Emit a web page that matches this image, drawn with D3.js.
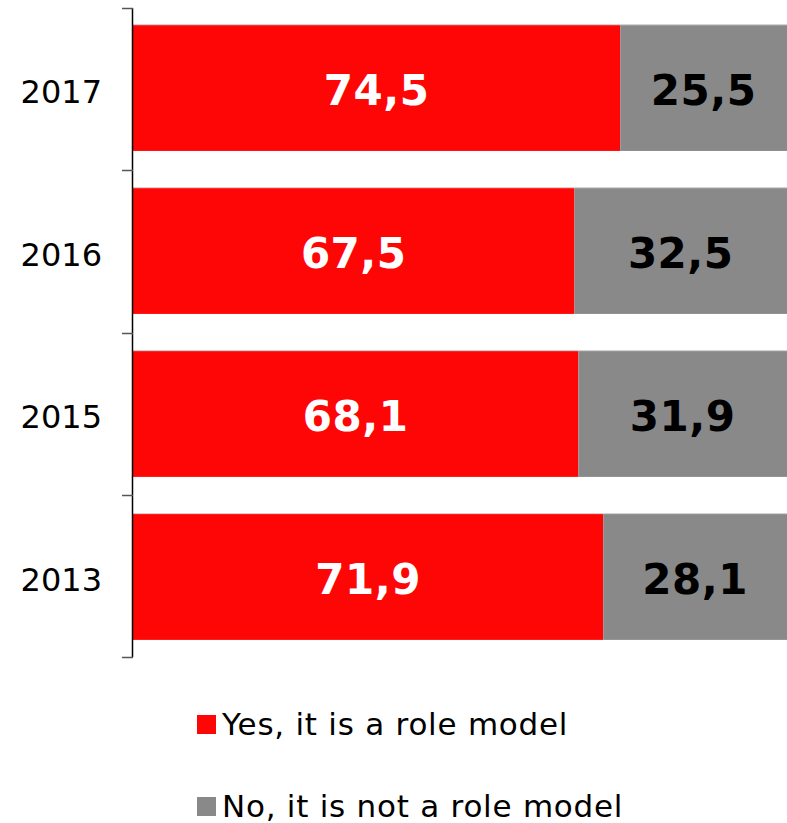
<!DOCTYPE html>
<html>
<head>
<meta charset="utf-8">
<script src="https://cdn.jsdelivr.net/npm/d3@7"></script>
<style>
  html, body { margin: 0; padding: 0; background: #fff; }
  svg { display: block; font-family: "DejaVu Sans", Verdana, sans-serif; }
</style>
</head>
<body>
<svg id="chart" width="787" height="823"></svg>
<script>
const years = ["2017", "2016", "2015", "2013"];
const yesValues = [74.5, 67.5, 68.1, 71.9];
const noValues = [25.5, 32.5, 31.9, 28.1];
const seriesNames = ["Yes, it is a role model", "No, it is not a role model"];
const seriesColors = ["#ff0606", "#898989"];
const labelColors = ["#ffffff", "#000000"];

const svg = d3.select("#chart");
const margin = { left: 133, right: 0, top: 8, bottom: 166 };
const W = 787, H = 823;

const x = d3.scaleLinear().domain([0, 100]).range([margin.left, W - margin.right]);
const y = d3.scaleBand().domain(years).range([margin.top, H - margin.bottom]).paddingInner(0.228).paddingOuter(0.105);

const stackData = years.map((yr, i) => ({ year: yr, yes: yesValues[i], no: noValues[i] }));
const stack = d3.stack().keys(["yes", "no"])(stackData);

const fmt = v => d3.format(".1f")(v).replace(".", ",");

stack.forEach((layer, li) => {
  const g = svg.append("g");
  g.selectAll("rect").data(layer).enter().append("rect")
    .attr("x", d => x(d[0]))
    .attr("y", d => y(d.data.year))
    .attr("width", d => x(d[1]) - x(d[0]))
    .attr("height", y.bandwidth())
    .attr("fill", seriesColors[li]);
  g.selectAll("line.edge").data(layer).enter().append("line")
    .attr("x1", d => x(d[0])).attr("x2", d => x(d[1]))
    .attr("y1", d => y(d.data.year) - 0.5).attr("y2", d => y(d.data.year) - 0.5)
    .attr("stroke", "#cfcfcf").attr("stroke-width", 1);
  g.selectAll("text").data(layer).enter().append("text")
    .attr("x", d => (x(d[0]) + x(d[1])) / 2)
    .attr("y", d => y(d.data.year) + y.bandwidth() / 2 + 17)
    .attr("text-anchor", "middle")
    .attr("font-weight", "bold")
    .attr("font-size", 42)
    .attr("letter-spacing", 0.5)
    .attr("fill", labelColors[li])
    .text(d => fmt(d[1] - d[0]));
});

// Y axis
const axisG = svg.append("g");
axisG.append("line")
  .attr("x1", margin.left - 0.5).attr("x2", margin.left - 0.5)
  .attr("y1", margin.top).attr("y2", H - margin.bottom)
  .attr("stroke", "#000").attr("stroke-width", 1.5);
const tickYs = d3.range(years.length + 1).map(i => margin.top + i * (H - margin.bottom - margin.top) / years.length);
axisG.selectAll("line.tick").data(tickYs).enter().append("line")
  .attr("x1", margin.left - 11).attr("x2", margin.left)
  .attr("y1", d => Math.round(d) + 0.5).attr("y2", d => Math.round(d) + 0.5)
  .attr("stroke", "#555").attr("stroke-width", 1.5);
axisG.selectAll("text").data(years).enter().append("text")
  .attr("x", 102)
  .attr("y", d => y(d) + y.bandwidth() / 2 + 14.5)
  .attr("text-anchor", "end")
  .attr("font-size", 32)
  .attr("fill", "#000")
  .text(d => d);

// Legend
const legend = svg.append("g");
const legendYs = [724, 806];
seriesNames.forEach((name, i) => {
  legend.append("rect")
    .attr("x", 197).attr("y", legendYs[i] - 9)
    .attr("width", 19).attr("height", 19)
    .attr("fill", seriesColors[i]);
  legend.append("text")
    .attr("x", 222).attr("y", legendYs[i] + 11)
    .attr("font-size", 31)
    .attr("letter-spacing", 0.75)
    .attr("fill", "#000")
    .text(name);
});
</script>
</body>
</html>
